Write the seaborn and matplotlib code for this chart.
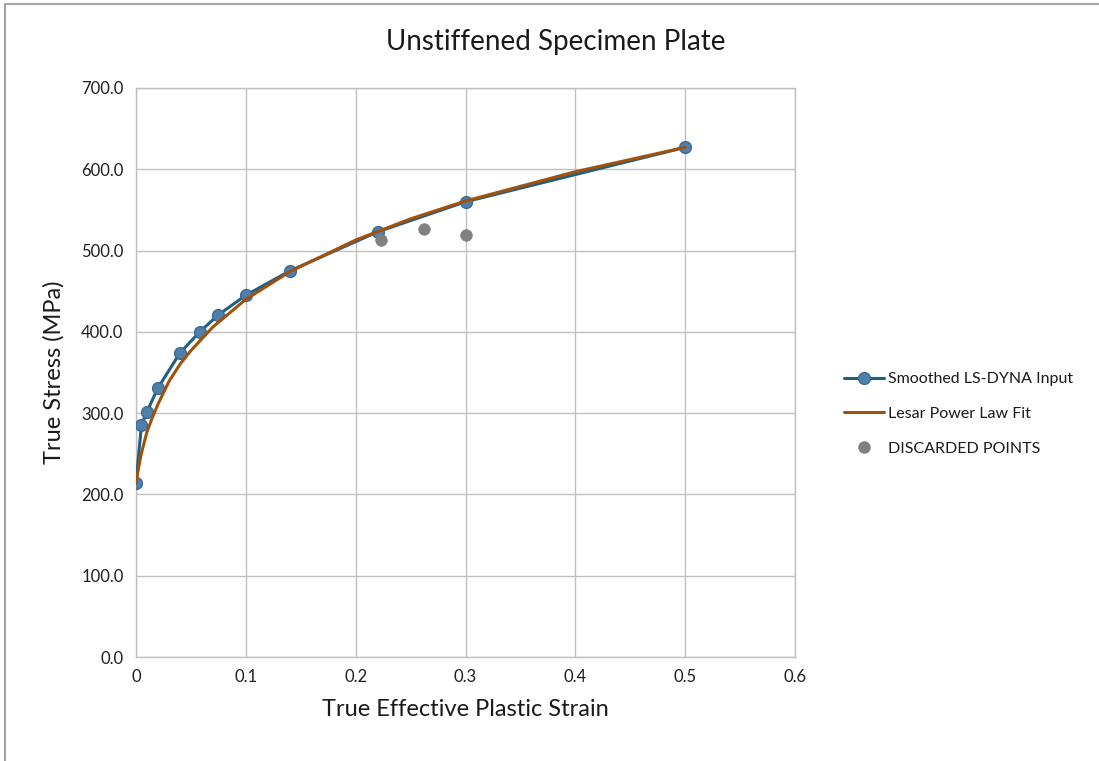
import numpy as np
import pandas as pd
import matplotlib
matplotlib.use("Agg")
import matplotlib.pyplot as plt
from matplotlib.lines import Line2D
from matplotlib.ticker import FuncFormatter, MultipleLocator
import seaborn as sns

# --- DATA ---
smoothed_strain = [0.0, 0.005, 0.01, 0.02, 0.04, 0.058, 0.075, 0.1, 0.14, 0.22, 0.3, 0.5]
smoothed_stress = [214, 286, 302, 331, 374, 400, 421, 445, 475, 523, 560, 627]

lesar_strain = [0.0, 0.0025, 0.005, 0.01, 0.015, 0.02, 0.03, 0.04, 0.05, 0.07,
                0.1, 0.14, 0.2, 0.25, 0.3, 0.4, 0.5]
lesar_stress = [214, 234, 251, 277, 295, 311, 339, 360, 377, 406,
                440, 474, 513, 539, 561, 597, 627]

discarded_strain = [0.223, 0.262, 0.3]
discarded_stress = [513, 527, 519]

x_ticks = [0, 0.1, 0.2, 0.3, 0.4, 0.5, 0.6]

BLUE_LINE = "#1f5f82"
BLUE_FILL = "#4f7fab"
ORANGE = "#a0520c"
GREY = "#808080"
GRID = "#c0c0c0"

sns.set_theme(style="white")
plt.rcParams['font.family'] = ['Lato', 'DejaVu Sans']

fig = plt.figure(figsize=(10.99, 7.61), dpi=100)
ax = fig.add_axes([136 / 1099, 1 - 657 / 761, (795 - 136) / 1099, (657 - 88) / 761])

df_smooth = pd.DataFrame({"strain": smoothed_strain, "stress": smoothed_stress})
df_lesar = pd.DataFrame({"strain": lesar_strain, "stress": lesar_stress})
df_disc = pd.DataFrame({"strain": discarded_strain, "stress": discarded_stress})

sns.lineplot(data=df_smooth, x="strain", y="stress", ax=ax, color=BLUE_LINE,
             linewidth=2.2, marker="o", markersize=8.5, markerfacecolor=BLUE_FILL,
             markeredgecolor="#3a6a94", markeredgewidth=1.0, sort=False, zorder=3)
sns.lineplot(data=df_lesar, x="strain", y="stress", ax=ax, color=ORANGE,
             linewidth=2.2, sort=False, zorder=4)
sns.scatterplot(data=df_disc, x="strain", y="stress", ax=ax, color=GREY,
                s=70, edgecolor=GREY, linewidth=0.5, zorder=5)

ax.set_xlim(0, 0.6)
ax.set_ylim(0, 700)
ax.set_xticks(x_ticks)
ax.yaxis.set_major_locator(MultipleLocator(100))
ax.xaxis.set_major_formatter(FuncFormatter(lambda v, p: "0" if abs(v) < 1e-9 else f"{v:g}"))
ax.yaxis.set_major_formatter(FuncFormatter(lambda v, p: f"{v:.1f}"))
ax.tick_params(axis="both", labelsize=12, colors="#1f1f1f", length=0, pad=9)

ax.grid(True, color=GRID, linewidth=1.0)
for s in ax.spines.values():
    s.set_color(GRID)
    s.set_linewidth(1.0)

ax.set_xlabel("True Effective Plastic Strain", fontsize=17, color="#1a1a1a", labelpad=10)
ax.set_ylabel("True Stress (MPa)", fontsize=17, color="#1a1a1a", labelpad=12)
fig.text(556 / 1099, 1 - 42 / 761, "Unstiffened Specimen Plate", fontsize=20,
         ha="center", va="center", color="#1a1a1a")

handles = [
    Line2D([], [], color=BLUE_LINE, linewidth=2.2, marker="o", markersize=8.5,
           markerfacecolor=BLUE_FILL, markeredgecolor="#3a6a94"),
    Line2D([], [], color=ORANGE, linewidth=2.2),
    Line2D([], [], color=GREY, linestyle="none", marker="o", markersize=8),
]
labels = ["Smoothed LS-DYNA Input", "Lesar Power Law Fit", "DISCARDED POINTS"]
fig.legend(handles, labels, loc="center left", bbox_to_anchor=(830 / 1099, 1 - 414 / 761),
           frameon=False, fontsize=11.5, handlelength=2.5, handletextpad=0.2,
           labelspacing=1.3, labelcolor="#1a1a1a")

# chart area border (left and top edges visible in the reference)
fig.add_artist(Line2D([4.5 / 1099, 4.5 / 1099], [0, 1 - 3.5 / 761],
                      transform=fig.transFigure, color="#a6a6a6", linewidth=1.5))
fig.add_artist(Line2D([4.5 / 1099, 1], [1 - 3.5 / 761, 1 - 3.5 / 761],
                      transform=fig.transFigure, color="#a6a6a6", linewidth=1.5))

fig.savefig("out.png", dpi=100)
plt.close(fig)
